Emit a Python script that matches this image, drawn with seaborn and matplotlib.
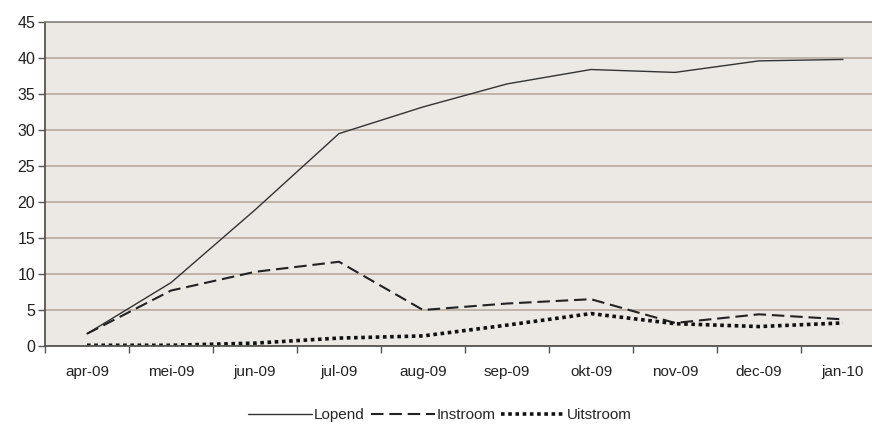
import matplotlib
matplotlib.use("Agg")
import matplotlib.pyplot as plt
import seaborn as sns
import pandas as pd
from matplotlib.ticker import FixedLocator

months = ["apr-09", "mei-09", "jun-09", "jul-09", "aug-09",
          "sep-09", "okt-09", "nov-09", "dec-09", "jan-10"]
lopend = [1.7, 8.8, 18.9, 29.5, 33.2, 36.4, 38.4, 38.0, 39.6, 39.8]
instroom = [1.7, 7.7, 10.3, 11.7, 5.0, 5.9, 6.5, 3.2, 4.4, 3.7]
uitstroom = [0.1, 0.1, 0.4, 1.1, 1.4, 2.9, 4.5, 3.1, 2.7, 3.2]

df = pd.DataFrame({
    "maand": list(range(len(months))) * 3,
    "waarde": lopend + instroom + uitstroom,
    "reeks": ["Lopend"] * 10 + ["Instroom"] * 10 + ["Uitstroom"] * 10,
})

sns.set_style("white")
plt.rcParams["font.family"] = ["Liberation Sans", "DejaVu Sans"]

fig = plt.figure(figsize=(8.72, 4.34), dpi=100)
ax = fig.add_axes([45 / 872, 88 / 434, 840 / 872, 324 / 434])
ax.set_facecolor("#ece8e3")

styles = {
    "Lopend": dict(linestyle="-", linewidth=1.0, color="#333333"),
    "Instroom": dict(linestyle=(0, (6, 2.8)), linewidth=1.5, color="#222222"),
    "Uitstroom": dict(linestyle=(0, (1.0, 1.0)), linewidth=2.6, color="#111111"),
}
for name, st in styles.items():
    sns.lineplot(data=df[df["reeks"] == name], x="maand", y="waarde",
                 ax=ax, label=name, **st)

ax.set_xlim(-0.5, 9.5)
ax.set_ylim(0, 45)
ax.set_yticks(range(0, 46, 5))
ax.yaxis.grid(True, color="#b5aa9f", linewidth=1.2)
ax.set_axisbelow(True)
ax.set_xticks(range(len(months)))
ax.set_xticklabels(months)
ax.xaxis.set_minor_locator(FixedLocator([i - 0.5 for i in range(len(months) + 1)]))
ax.tick_params(axis="x", which="major", bottom=False, length=0, pad=14,
               labelsize=11, labelcolor="#222222")
ax.tick_params(axis="x", which="minor", bottom=True, length=5, width=1,
               color="#555555", direction="out")
ax.tick_params(axis="y", left=True, length=5, width=1, color="#555555",
               labelsize=11.5, labelcolor="#222222", pad=2)
ax.set_xlabel("")
ax.set_ylabel("")
for side in ["left", "bottom"]:
    ax.spines[side].set_color("#555555")
    ax.spines[side].set_linewidth(1.3)
ax.spines["right"].set_visible(False)
ax.spines["top"].set_color("#8a847e")
ax.spines["top"].set_linewidth(1.2)

ax.legend(loc="center", bbox_to_anchor=(440 / 872, 19 / 434),
          bbox_transform=fig.transFigure, ncol=3, frameon=False,
          handlelength=4.2, handletextpad=0.1, columnspacing=0.4,
          fontsize=11)

fig.savefig("out.png", dpi=100)
